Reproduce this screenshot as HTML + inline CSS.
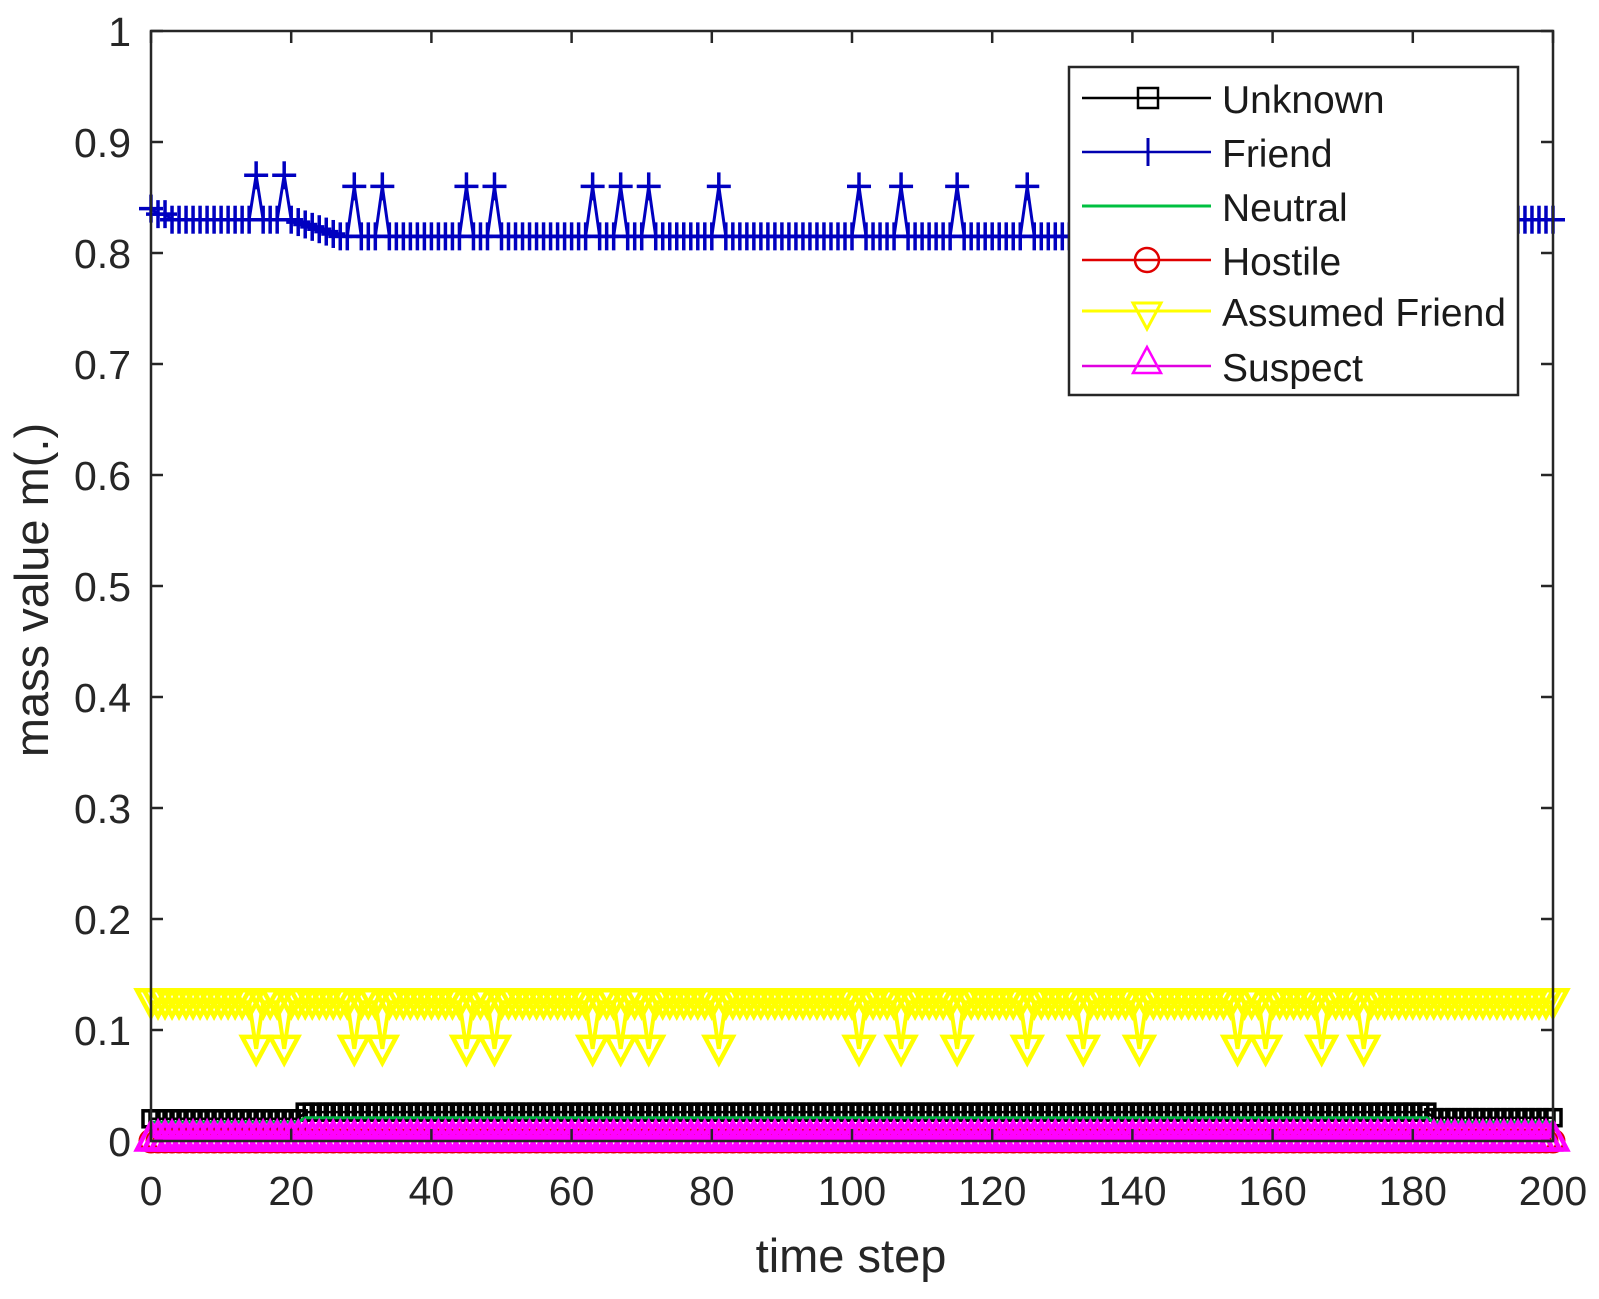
<!DOCTYPE html>
<html><head><meta charset="utf-8"><style>
html,body{margin:0;padding:0;background:#fff;}
svg{display:block;font-family:"Liberation Sans",Arial,sans-serif;}
</style></head><body>
<svg id="s" width="1599" height="1299" viewBox="0 0 1599 1299" xmlns="http://www.w3.org/2000/svg">
<rect width="1599" height="1299" fill="#fff"/>
<g id="series"></g>
<g id="axes" fill="none" stroke="#262626" stroke-width="2.5"></g>
<g id="labels" fill="#262626" font-size="41"></g>
<text x="0" y="0" transform="translate(48,590) rotate(-90)" text-anchor="middle" font-size="47" fill="#262626">mass value m(.)</text>
<text x="851" y="1272" text-anchor="middle" font-size="47" fill="#262626">time step</text>
<g id="legend">
<rect x="1069" y="67" width="449" height="328" fill="#fff" stroke="#262626" stroke-width="2.5"/>
<line x1="1082" y1="98" x2="1211" y2="98" stroke="#000" stroke-width="2.5"/>
<rect x="1138" y="88" width="20" height="20" fill="none" stroke="#000" stroke-width="2.5"/>
<line x1="1082" y1="152" x2="1211" y2="152" stroke="#0000b0" stroke-width="2.5"/>
<line x1="1148" y1="138" x2="1148" y2="166" stroke="#0000b0" stroke-width="3"/>
<line x1="1082" y1="206" x2="1211" y2="206" stroke="#00c040" stroke-width="3"/>
<line x1="1082" y1="260" x2="1211" y2="260" stroke="#e00000" stroke-width="2.5"/>
<circle cx="1147" cy="260" r="12" fill="none" stroke="#e00000" stroke-width="2.5"/>
<line x1="1082" y1="311" x2="1211" y2="311" stroke="#ffff00" stroke-width="3"/>
<path d="M1133 303 L1161 303 L1147 329 Z" fill="none" stroke="#ffff00" stroke-width="3"/>
<line x1="1082" y1="366" x2="1211" y2="366" stroke="#e000e0" stroke-width="2.5"/>
<path d="M1133 373 L1161 373 L1147 347 Z" fill="none" stroke="#ff00ff" stroke-width="2.5"/>
<g fill="#1a1a1a" font-size="39">
<text x="1222" y="113">Unknown</text>
<text x="1222" y="167">Friend</text>
<text x="1222" y="221">Neutral</text>
<text x="1222" y="275">Hostile</text>
<text x="1222" y="326">Assumed Friend</text>
<text x="1222" y="381">Suspect</text>
</g>
</g>
</svg>
<script>
const NS="http://www.w3.org/2000/svg";
const X=t=>151+t*7.01, Y=v=>31+1110*(1-v);
const L=151,R=1553,T=31,B=1141;
const ser=document.getElementById('series');
function el(tag,attrs,parent){const e=document.createElementNS(NS,tag);for(const k in attrs)e.setAttribute(k,attrs[k]);(parent||ser).appendChild(e);return e;}
const ts=[];for(let t=0;t<=200;t++)ts.push(t);
const spikes=[15,19,29,33,45,49,63,67,71,81,101,107,115,125,133,141,155,159,167,173];
function poly(vals,color,w){el('polyline',{points:vals.map((v,i)=>X(i)+','+Y(v)).join(' '),fill:'none',stroke:color,'stroke-width':w});}
// Unknown
const unk=ts.map(t=>t<22?0.02:(t<=182?0.026:0.021));
poly(unk,'#000',2.5);
unk.forEach((v,i)=>el('rect',{x:X(i)-8,y:Y(v)-8,width:16,height:16,fill:'none',stroke:'#000','stroke-width':3.5}));
// Friend
const fr=ts.map(t=>{let b;if(t==0)b=0.84;else if(t<3)b=0.835;else if(t<=20)b=0.83;else if(t<=27)b=0.83-(t-20)*0.015/7;else if(t<=185)b=0.815;else b=0.83;
 if(spikes.includes(t))b=(t<20?0.87:0.86);return b;});
poly(fr,'#0000c0',3);
fr.forEach((v,i)=>{el('line',{x1:X(i),y1:Y(v)-14,x2:X(i),y2:Y(v)+14,stroke:'#0000c0','stroke-width':3.5});el('line',{x1:X(i)-12,y1:Y(v),x2:X(i)+12,y2:Y(v),stroke:'#0000c0','stroke-width':3.5});});
// Neutral
poly(ts.map(t=>t<22?0.017:(t<=182?0.021:0.017)),'#00b040',3);
// Hostile
const ho=ts.map(t=>0.0);
poly(ho,'#e00000',2.5);
ho.forEach((v,i)=>el('circle',{cx:X(i),cy:Y(v),r:11,fill:'none',stroke:'#e00000','stroke-width':3}));
// Assumed friend
const af=ts.map(t=>spikes.includes(t)?0.083:0.125);
poly(af,'#ffff00',4);
af.forEach((v,i)=>{const x=X(i),y=Y(v);el('path',{d:`M${x-14} ${y-12} L${x+14} ${y-12} L${x} ${y+14} Z`,fill:'none',stroke:'#ffff00','stroke-width':4.5});});
// Suspect
const su=ts.map(t=>0.004);
poly(su,'#ff00ff',3);
su.forEach((v,i)=>{const x=X(i),y=Y(v);el('path',{d:`M${x-14} ${y+13} L${x+14} ${y+13} L${x} ${y-14} Z`,fill:'none',stroke:'#ff00ff','stroke-width':4.5});});
// axes
const ax=document.getElementById('axes'),lb=document.getElementById('labels');
el('rect',{x:L,y:T,width:R-L,height:B-T},ax);
for(let i=0;i<=10;i++){const y=Y(i/10);el('line',{x1:L,y1:y,x2:L+12,y2:y},ax);el('line',{x1:R,y1:y,x2:R-12,y2:y},ax);
 const tx=el('text',{x:131,y:y+15,'text-anchor':'end'},lb);tx.textContent=(i==0?'0':i==10?'1':(i/10).toFixed(1));}
for(let t=0;t<=200;t+=20){const x=X(t);el('line',{x1:x,y1:B,x2:x,y2:B-12},ax);el('line',{x1:x,y1:T,x2:x,y2:T+12},ax);
 const tx=el('text',{x:x,y:1205,'text-anchor':'middle'},lb);tx.textContent=t;}
</script>
</body></html>
